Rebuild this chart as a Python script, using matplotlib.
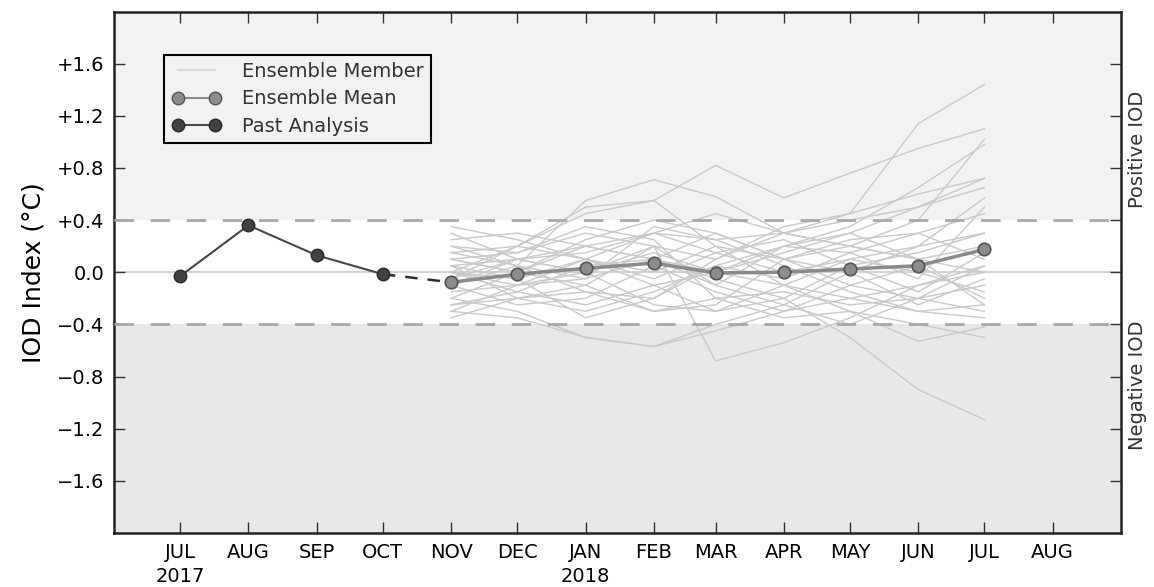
import datetime as dt

import numpy as np
import matplotlib
matplotlib.use('Agg')
import matplotlib.pyplot as plt
import matplotlib.dates as mdates
from matplotlib.lines import Line2D


# %% data
months_past = [dt.date(2017, 7, 1), dt.date(2017, 8, 1), dt.date(2017, 9, 1),
               dt.date(2017, 10, 1)]
iod_past = [-0.03, 0.36, 0.13, -0.015]

months_fcst = [dt.date(2017, 11, 1), dt.date(2017, 12, 1), dt.date(2018, 1, 1),
               dt.date(2018, 2, 1), dt.date(2018, 3, 1), dt.date(2018, 4, 1),
               dt.date(2018, 5, 1), dt.date(2018, 6, 1), dt.date(2018, 7, 1)]
iod_mean = [-0.077, -0.015, 0.03, 0.07, -0.005, 0.0, 0.025, 0.05, 0.175]

# ensemble members, NOV 2017 .. JUL 2018
members = [
    [0.05, 0.10, 0.20, 0.30, 0.25, 0.30, 0.45, 1.14, 1.44],
    [0.15, 0.20, 0.45, 0.55, 0.82, 0.57, 0.76, 0.95, 1.10],
    [0.00, -0.10, -0.05, 0.10, -0.05, -0.20, -0.50, -0.90, -1.13],
    [-0.20, -0.30, -0.50, -0.57, -0.40, -0.25, 0.00, 0.20, 0.30],
    [0.10, 0.00, -0.10, 0.20, -0.68, -0.54, -0.35, -0.10, 0.05],
    [-0.10, 0.05, 0.55, 0.71, 0.58, 0.30, 0.20, 0.10, 0.00],
    [0.00, 0.20, 0.50, 0.55, 0.20, 0.10, 0.25, 0.30, 0.45],
    [0.35, 0.25, 0.10, -0.10, 0.00, 0.15, 0.30, 0.50, 0.72],
    [-0.30, -0.35, -0.50, -0.57, -0.45, -0.30, -0.20, -0.30, -0.25],
    [0.10, 0.00, 0.20, 0.10, 0.30, 0.10, 0.20, 0.40, 1.02],
    [-0.05, 0.10, 0.00, 0.20, -0.10, 0.20, 0.35, 0.65, 0.98],
    [0.20, 0.15, 0.30, 0.20, 0.10, 0.35, 0.45, 0.60, 0.72],
    [-0.10, 0.10, 0.15, 0.30, 0.45, 0.30, 0.40, 0.50, 0.65],
    [0.05, -0.05, 0.10, 0.00, 0.20, -0.10, 0.10, 0.20, 0.57],
    [-0.15, -0.10, 0.00, 0.15, 0.00, 0.20, 0.15, -0.05, 0.50],
    [-0.25, -0.20, -0.10, -0.30, -0.20, -0.35, -0.30, -0.53, -0.42],
    [0.00, -0.15, -0.25, -0.10, -0.30, -0.10, -0.30, -0.40, -0.50],
    [0.25, 0.30, 0.20, 0.10, 0.00, -0.10, -0.20, -0.10, 0.00],
    [-0.30, -0.10, 0.10, 0.30, 0.15, 0.00, 0.10, 0.00, -0.15],
    [0.15, 0.05, -0.15, -0.20, 0.10, 0.30, 0.20, 0.10, 0.20],
    [-0.20, 0.00, 0.25, 0.40, 0.30, 0.10, -0.10, -0.20, -0.10],
    [0.05, -0.20, -0.30, -0.15, 0.05, -0.05, 0.15, 0.30, 0.10],
    [-0.10, -0.25, -0.20, 0.05, -0.15, -0.30, -0.10, 0.05, -0.20],
    [0.10, 0.15, 0.35, 0.25, -0.20, -0.15, -0.25, -0.20, -0.30],
    [-0.35, -0.20, -0.15, -0.30, -0.25, 0.10, 0.00, -0.25, -0.05],
    [0.20, 0.05, -0.05, 0.35, 0.25, 0.05, -0.15, -0.30, -0.35],
    [-0.05, 0.20, 0.10, -0.05, 0.15, 0.25, 0.05, -0.15, 0.15],
    [0.00, -0.05, -0.35, -0.20, 0.05, 0.20, 0.30, 0.10, -0.25],
    [-0.25, -0.15, 0.05, 0.10, -0.10, -0.25, -0.40, -0.20, 0.05],
    [0.30, 0.10, 0.00, -0.25, -0.30, -0.20, 0.05, 0.15, 0.30],
]

tick_months = [dt.date(2017, 7, 1) + dt.timedelta(days=31*i) for i in range(14)]
tick_months = [dt.date(d.year, d.month, 1) for d in tick_months]
tick_labels = ['JUL\n2017', 'AUG', 'SEP', 'OCT', 'NOV', 'DEC', 'JAN\n2018',
               'FEB', 'MAR', 'APR', 'MAY', 'JUN', 'JUL', 'AUG']

y_ticks = [-1.6, -1.2, -0.8, -0.4, 0.0, 0.4, 0.8, 1.2, 1.6]
y_ticklabels = ['\u22121.6', '\u22121.2', '\u22120.8', '\u22120.4', '0.0',
                '+0.4', '+0.8', '+1.2', '+1.6']

thresh = 0.4

# %% plot
fig = plt.figure(figsize=(11.54, 5.87), dpi=100)
ax = fig.add_axes([0.0988, 0.092, 0.8726, 0.8884])

# background bands
ax.axhspan(thresh, 2.0, color='#f2f2f2', zorder=0, lw=0)
ax.axhspan(-2.0, -thresh, color='#e8e8e8', zorder=0, lw=0)
ax.axhline(0, color='#d4d4d4', lw=1.5, zorder=1)
for yy in (thresh, -thresh):
    ax.axhline(yy, color='#a8a8a8', lw=2, ls=(0, (7, 6)), zorder=4)

# ensemble members
for m in members:
    ax.plot(months_fcst, m, color='#c9c9c9', lw=1.0, zorder=2)

# ensemble mean
ax.plot(months_fcst, iod_mean, color='#8a8a8a', lw=2.5, marker='o',
        ms=9, mfc='#8c8c8c', mec='#555555', mew=1.2, zorder=6)

# past analysis
ax.plot(months_past, iod_past, color='#474747', lw=1.5, marker='o',
        ms=9, mfc='#414141', mec='#2a2a2a', mew=1.0, zorder=7)
ax.plot([months_past[-1], months_fcst[0]], [iod_past[-1], iod_mean[0]],
        color='#2e2e2e', lw=1.8, ls=(0, (5, 4)), zorder=5)

ax.set_xlim(dt.date(2017, 6, 1), dt.date(2018, 9, 1))
ax.set_ylim(-2.0, 2.0)
ax.set_xticks(mdates.date2num(tick_months))
ax.set_xticklabels(tick_labels, fontsize=14, linespacing=1.35)
ax.set_yticks(y_ticks)
ax.set_yticklabels(y_ticklabels, fontsize=14)
ax.tick_params(direction='in', length=8, width=1, top=True, right=True,
               color='#333333', pad=7)
for sp in ax.spines.values():
    sp.set_linewidth(1.8)
    sp.set_color('#222222')

ax.set_ylabel('IOD Index (\u00b0C)', fontsize=18, labelpad=8)

ax.text(1.016, 0.735, 'Positive IOD', transform=ax.transAxes, rotation=90,
        ha='center', va='center', fontsize=14, color='#333333')
ax.text(1.016, 0.2825, 'Negative IOD', transform=ax.transAxes, rotation=90,
        ha='center', va='center', fontsize=14, color='#333333')

handles = [
    Line2D([], [], color='#d8d8d8', lw=1.5),
    Line2D([], [], color='#8a8a8a', lw=1.5, marker='o', ms=9,
           mfc='#8c8c8c', mec='#555555'),
    Line2D([], [], color='#474747', lw=1.5, marker='o', ms=9,
           mfc='#414141', mec='#2a2a2a'),
]
leg = ax.legend(handles, ['Ensemble Member', 'Ensemble Mean', 'Past Analysis'],
                loc='upper left', bbox_to_anchor=(0.05, 0.917), borderaxespad=0,
                fontsize=14, numpoints=2, handlelength=2.5, handletextpad=1.1,
                labelspacing=0.42, borderpad=0.38, fancybox=False,
                framealpha=1, facecolor='#f2f2f2')
leg.get_frame().set_edgecolor('black')
leg.get_frame().set_linewidth(1.5)
for t in leg.get_texts():
    t.set_color('#333333')

fig.savefig('out.png', dpi=100)
